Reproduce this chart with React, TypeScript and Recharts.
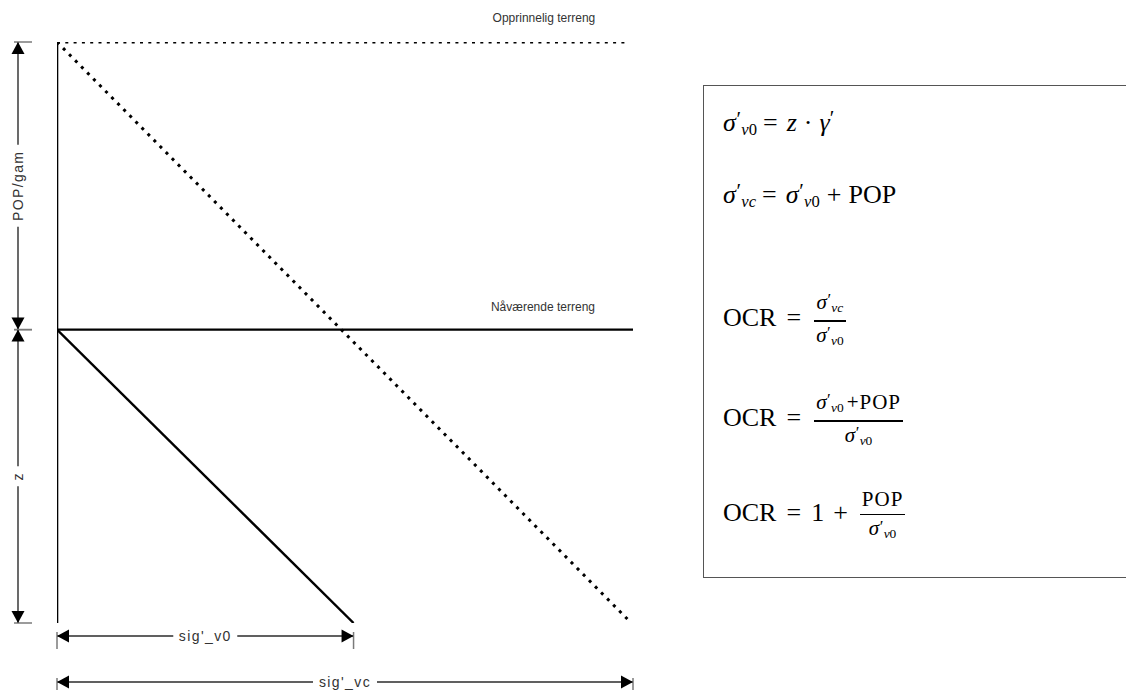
import React from 'react';
import { ComposedChart, Line, XAxis, YAxis, ReferenceLine } from 'recharts';

// ---------- data (depth in m below original terrain, stress in kPa) ----------
const depthOriginalTerrain = 0;
const depthCurrentTerrain = 5.0;
const depthBottom = 10.1;
const stressMax = 101;
const sigV0AtBottom = 52;
const sigVcAtBottom = 100.7;
const originalTerrainEnd = 100;

const verticalLine = [{ x: 0, y: depthOriginalTerrain }, { x: 0, y: depthBottom }];
const originalTerrainLine = [{ x: 0, y: depthOriginalTerrain }, { x: originalTerrainEnd, y: depthOriginalTerrain }];
const currentTerrainLine = [{ x: 0, y: depthCurrentTerrain }, { x: stressMax, y: depthCurrentTerrain }];
const sigV0Line = [{ x: 0, y: depthCurrentTerrain }, { x: sigV0AtBottom, y: depthBottom }];
const sigVcLine = [{ x: 0, y: depthOriginalTerrain }, { x: sigVcAtBottom, y: depthBottom }];

const terrainLabels = ['Opprinnelig terreng', 'Nåværende terreng'];
const dimensionLabels = ['POP/gam', 'z', "sig'_v0", "sig'_vc"];

// ---------- styling ----------
const W = 1126;
const H = 690;
const sans = '"Liberation Sans", Arial, sans-serif';
const serif = '"Liberation Serif", "DejaVu Serif", serif';
const DIM = '#2b2b2b';
const TICK = '#7a7a7a';
const AL = 12; // arrow length
const AW = 6.5; // arrow half width
const DIM_FONT = 14;
const DIM_SPACING = 1.4;

const tri = (pts: number[][]) => pts.map((p) => p.join(',')).join(' ');

const makeVDim = (label: string, dx: number, gap: number) => (props: any) => {
  const x = Number(props.x1) + dx;
  const top = Math.min(Number(props.y1), Number(props.y2));
  const bot = Math.max(Number(props.y1), Number(props.y2));
  const mid = (top + bot) / 2;
  return (
    <g>
      <line x1={x} y1={top} x2={x} y2={mid - gap / 2} stroke={DIM} strokeWidth={1.4} />
      <line x1={x} y1={mid + gap / 2} x2={x} y2={bot} stroke={DIM} strokeWidth={1.4} />
      <line x1={x - 4} y1={top} x2={x + 14} y2={top} stroke={TICK} strokeWidth={1.5} />
      <line x1={x - 4} y1={bot} x2={x + 14} y2={bot} stroke={TICK} strokeWidth={1.5} />
      <polygon points={tri([[x, top], [x - AW, top + AL], [x + AW, top + AL]])} fill="#000" />
      <polygon points={tri([[x, bot], [x - AW, bot - AL], [x + AW, bot - AL]])} fill="#000" />
      <text
        x={x}
        y={mid}
        transform={`rotate(-90 ${x} ${mid})`}
        textAnchor="middle"
        dominantBaseline="central"
        fontFamily={sans}
        fontSize={DIM_FONT}
        letterSpacing={DIM_SPACING}
        fill="#333"
      >
        {label}
      </text>
    </g>
  );
};

const makeHDim = (label: string, dy: number, gap: number) => (props: any) => {
  const y = Number(props.y1) + dy;
  const left = Math.min(Number(props.x1), Number(props.x2));
  const right = Math.max(Number(props.x1), Number(props.x2));
  const mid = (left + right) / 2;
  return (
    <g>
      <line x1={left} y1={y} x2={mid - gap / 2} y2={y} stroke={DIM} strokeWidth={1.4} />
      <line x1={mid + gap / 2} y1={y} x2={right} y2={y} stroke={DIM} strokeWidth={1.4} />
      <line x1={left} y1={y - 4} x2={left} y2={y + 13} stroke={TICK} strokeWidth={1.5} />
      <line x1={right} y1={y - 4} x2={right} y2={y + 13} stroke={TICK} strokeWidth={1.5} />
      <polygon points={tri([[left, y], [left + AL, y - AW], [left + AL, y + AW]])} fill="#000" />
      <polygon points={tri([[right, y], [right - AL, y - AW], [right - AL, y + AW]])} fill="#000" />
      <text
        x={mid}
        y={y}
        textAnchor="middle"
        dominantBaseline="central"
        fontFamily={sans}
        fontSize={DIM_FONT}
        letterSpacing={DIM_SPACING}
        fill="#333"
      >
        {label}
      </text>
    </g>
  );
};

const terrainLabel = (text: string, dx: number, dy: number) => (p: any) => {
  if (p.index !== 1) return null;
  return (
    <text
      key={text}
      x={Number(p.x) + dx}
      y={Number(p.y) + dy}
      textAnchor="end"
      dominantBaseline="central"
      fontFamily={sans}
      fontSize={12}
      fill="#333"
    >
      {text}
    </text>
  );
};

// ---------- formula pieces ----------
function Sig({ s }: { s: string }) {
  return (
    <span style={{ whiteSpace: 'nowrap' }}>
      <i>σ</i>
      <span style={{ fontSize: '0.8em', position: 'relative', top: '-0.22em', marginLeft: '0.03em' }}>′</span>
      <span style={{ fontSize: '0.64em', position: 'relative', top: '0.22em', marginLeft: '0.02em' }}>
        <i>{s[0]}</i>
        {s[1] === '0' ? '0' : <i>{s[1]}</i>}
      </span>
    </span>
  );
}

function Frac({ num, den }: { num: React.ReactNode; den: React.ReactNode }) {
  return (
    <span
      style={{
        display: 'inline-flex',
        flexDirection: 'column',
        alignItems: 'center',
        fontSize: 21,
        paddingTop: 4,
        marginLeft: 3,
      }}
    >
      <span style={{ display: 'block', lineHeight: '20px', padding: '0 2px' }}>{num}</span>
      <span style={{ display: 'block', alignSelf: 'stretch', height: 1.7, background: '#000', marginTop: 5 }} />
      <span style={{ display: 'block', lineHeight: '20px', padding: '0 2px', marginTop: 3 }}>{den}</span>
    </span>
  );
}

const formulaRow = (top: number, content: React.ReactNode) => (
  <div
    style={{
      position: 'absolute',
      left: 723,
      top,
      height: 0,
      display: 'flex',
      alignItems: 'center',
      fontFamily: serif,
      fontSize: 26,
      color: '#000',
      whiteSpace: 'nowrap',
    }}
  >
    {content}
  </div>
);

export default function App() {
  return (
    <div style={{ position: 'absolute', left: 0, top: 0, width: W, height: H, background: '#fff', overflow: 'hidden' }}>
      <ComposedChart width={W} height={H} margin={{ top: 42, right: 493, bottom: 67, left: 57 }}>
        <XAxis type="number" dataKey="x" domain={[0, stressMax]} hide allowDataOverflow />
        <YAxis type="number" dataKey="y" domain={[depthOriginalTerrain, depthBottom]} reversed hide allowDataOverflow />

        <Line
          data={originalTerrainLine}
          dataKey="y"
          stroke="#000"
          strokeWidth={3}
          strokeDasharray="3 5.3"
          dot={false}
          activeDot={false}
          isAnimationActive={false}
          label={terrainLabel(terrainLabels[0], -32, -24)}
        />
        <Line
          data={sigVcLine}
          dataKey="y"
          stroke="#000"
          strokeWidth={3}
          strokeDasharray="3 5.6"
          dot={false}
          activeDot={false}
          isAnimationActive={false}
        />
        <Line
          data={currentTerrainLine}
          dataKey="y"
          stroke="#000"
          strokeWidth={2.4}
          dot={false}
          activeDot={false}
          isAnimationActive={false}
          label={terrainLabel(terrainLabels[1], -38, -23)}
        />
        <Line
          data={sigV0Line}
          dataKey="y"
          stroke="#000"
          strokeWidth={2.4}
          dot={false}
          activeDot={false}
          isAnimationActive={false}
        />
        <Line
          data={verticalLine}
          dataKey="y"
          stroke="#000"
          strokeWidth={2.6}
          dot={false}
          activeDot={false}
          isAnimationActive={false}
        />

        <ReferenceLine
          segment={[{ x: 0, y: depthOriginalTerrain }, { x: 0, y: depthCurrentTerrain }]}
          shape={makeVDim(dimensionLabels[0], -39, 82)}
        />
        <ReferenceLine
          segment={[{ x: 0, y: depthCurrentTerrain }, { x: 0, y: depthBottom }]}
          shape={makeVDim(dimensionLabels[1], -39, 20)}
        />
        <ReferenceLine
          segment={[{ x: 0, y: depthBottom }, { x: sigV0AtBottom, y: depthBottom }]}
          shape={makeHDim(dimensionLabels[2], 13, 64)}
        />
        <ReferenceLine
          segment={[{ x: 0, y: depthBottom }, { x: stressMax, y: depthBottom }]}
          shape={makeHDim(dimensionLabels[3], 59, 64)}
        />
      </ComposedChart>

      <div
        style={{
          position: 'absolute',
          left: 703,
          top: 85,
          width: 440,
          height: 493,
          border: '1.5px solid #555',
          boxSizing: 'border-box',
        }}
      />
      {formulaRow(123, (
        <>
          <Sig s="v0" />
          <span style={{ margin: '0 9px 0 6px' }}>=</span>
          <i>z</i>
          <span style={{ margin: '0 7px' }}>·</span>
          <i>γ</i>
          <span style={{ fontSize: '0.8em', position: 'relative', top: '-0.22em' }}>′</span>
        </>
      ))}
      {formulaRow(195, (
        <>
          <Sig s="vc" />
          <span style={{ margin: '0 9px 0 6px' }}>=</span>
          <Sig s="v0" />
          <span style={{ margin: '0 7px 0 7px' }}>+</span>
          <span>POP</span>
        </>
      ))}
      {formulaRow(318, (
        <>
          <span>OCR</span>
          <span style={{ margin: '0 10px' }}>=</span>
          <Frac num={<Sig s="vc" />} den={<Sig s="v0" />} />
        </>
      ))}
      {formulaRow(418, (
        <>
          <span>OCR</span>
          <span style={{ margin: '0 10px' }}>=</span>
          <Frac
            num={
              <>
                <Sig s="v0" />
                <span style={{ marginLeft: 3, letterSpacing: 1 }}>+POP</span>
              </>
            }
            den={<Sig s="v0" />}
          />
        </>
      ))}
      {formulaRow(513, (
        <>
          <span>OCR</span>
          <span style={{ margin: '0 10px' }}>=</span>
          <span>1</span>
          <span style={{ margin: '0 9px' }}>+</span>
          <Frac num={<span style={{ letterSpacing: 1 }}>POP</span>} den={<Sig s="v0" />} />
        </>
      ))}
    </div>
  );
}
